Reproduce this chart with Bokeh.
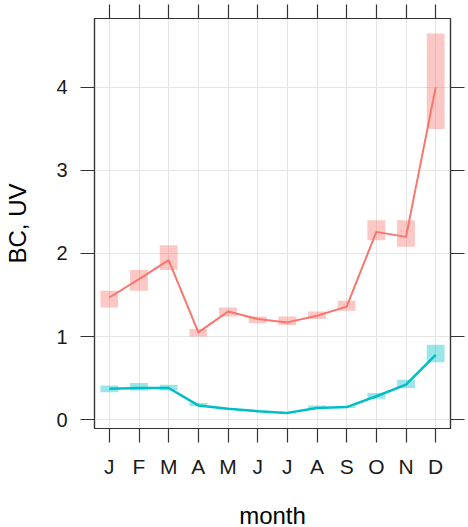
from bokeh.plotting import figure
from bokeh.models import Range1d, FixedTicker, LinearAxis, ColumnDataSource, CustomLabelingPolicy
from bokeh.embed import file_html
from bokeh.resources import INLINE

months = [1, 2, 3, 4, 5, 6, 7, 8, 9, 10, 11, 12]
month_labels = ["J", "F", "M", "A", "M", "J", "J", "A", "S", "O", "N", "D"]
y_ticks = [0, 1, 2, 3, 4]

bc_mean = [1.47, 1.69, 1.92, 1.05, 1.30, 1.21, 1.17, 1.25, 1.36, 2.26, 2.20, 4.00]
bc_low = [1.35, 1.55, 1.80, 1.00, 1.24, 1.16, 1.14, 1.21, 1.31, 2.16, 2.08, 3.50]
bc_high = [1.55, 1.80, 2.10, 1.09, 1.35, 1.24, 1.24, 1.30, 1.43, 2.40, 2.40, 4.65]

uv_mean = [0.37, 0.38, 0.38, 0.17, 0.13, 0.10, 0.08, 0.14, 0.15, 0.28, 0.42, 0.78]
uv_low = [0.33, 0.35, 0.35, 0.16, 0.12, 0.09, 0.07, 0.14, 0.14, 0.25, 0.38, 0.69]
uv_high = [0.41, 0.44, 0.42, 0.20, 0.14, 0.11, 0.09, 0.17, 0.16, 0.32, 0.48, 0.90]

RED = "#F8766D"
CYAN = "#00BFC4"
FRAME = "#333333"
FONT = "Liberation Sans"

src = ColumnDataSource(dict(month=months, bc=bc_mean, bcl=bc_low, bch=bc_high,
                            uv=uv_mean, uvl=uv_low, uvh=uv_high))

p = figure(frame_width=356, frame_height=410, output_backend="svg", toolbar_location=None,
           x_range=Range1d(0.5, 12.5), y_range=Range1d(-0.108, 4.83),
           min_border_left=94, min_border_right=17, min_border_top=18, min_border_bottom=98,
           background_fill_color="white", border_fill_color="white")

p.outline_line_color = FRAME
p.outline_line_width = 1.2

# grid
p.xgrid.ticker = FixedTicker(ticks=months)
p.ygrid.ticker = FixedTicker(ticks=y_ticks)
for g in (p.xgrid[0], p.ygrid[0]):
    g.grid_line_color = "#E5E5E5"
    g.grid_line_width = 1

# confidence boxes
p.vbar(x="month", width=0.6, bottom="bcl", top="bch", source=src,
       fill_color=RED, fill_alpha=0.4, line_color=None)
p.vbar(x="month", width=0.6, bottom="uvl", top="uvh", source=src,
       fill_color=CYAN, fill_alpha=0.4, line_color=None)

# mean lines
p.line(x="month", y="bc", source=src, line_color=RED, line_width=2)
p.line(x="month", y="uv", source=src, line_color=CYAN, line_width=2.5)

# bottom / left axes
xa = p.xaxis[0]
xa.ticker = FixedTicker(ticks=months)
xa.major_label_overrides = {m: l for m, l in zip(months, month_labels)}
xa.axis_label = "month"
ya = p.yaxis[0]
ya.ticker = FixedTicker(ticks=y_ticks)
ya.axis_label = "BC, UV"

for ax in (xa, ya):
    ax.major_tick_out = 14
    ax.major_tick_in = 0
    ax.minor_tick_out = 0
    ax.minor_tick_in = 0
    ax.axis_line_color = FRAME
    ax.major_tick_line_color = FRAME
    ax.major_tick_line_width = 1.2
    ax.axis_line_width = 1.2
    ax.major_label_text_font = FONT
    ax.major_label_text_color = "#1a1a1a"
    ax.axis_label_text_font = FONT
    ax.axis_label_text_font_style = "normal"
    ax.axis_label_text_font_size = "24px"
    ax.axis_label_text_color = "black"

xa.major_label_text_font_size = "21px"
xa.major_label_standoff = 12
xa.axis_label_standoff = 21
ya.major_label_text_font_size = "20px"
ya.major_label_standoff = 13
ya.major_label_orientation = "horizontal"
ya.axis_label_standoff = 22

# top and right tick-only axes (labels filtered out)
no_labels = CustomLabelingPolicy(code="""
    for (const i of indices) { indices.unset(i) }
    return indices
""")
top = LinearAxis(ticker=FixedTicker(ticks=months))
right = LinearAxis(ticker=FixedTicker(ticks=y_ticks))
for ax in (top, right):
    ax.major_tick_out = 14
    ax.major_tick_in = 0
    ax.minor_tick_out = 0
    ax.minor_tick_in = 0
    ax.major_label_text_font_size = "1px"
    ax.major_label_standoff = 0
    ax.major_label_policy = no_labels
    ax.axis_line_color = FRAME
    ax.axis_line_width = 1.2
    ax.major_tick_line_color = FRAME
    ax.major_tick_line_width = 1.2
p.add_layout(top, "above")
p.add_layout(right, "right")

open("out.html", "w").write(file_html(p, INLINE))
